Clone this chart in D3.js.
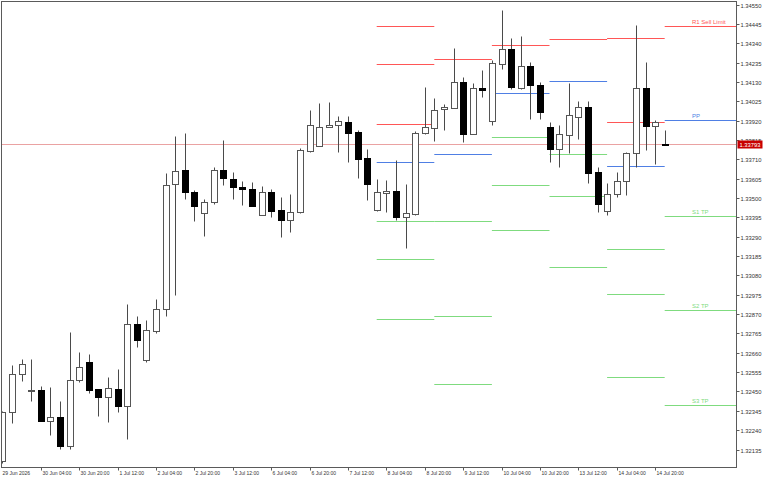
<!DOCTYPE html>
<html lang="en">
  <head>
    <meta charset="utf-8" />
    <title>GBPUSD H4 pivots</title>
    <script type="text/javascript" src="https://d3js.org/d3.v7.min.js"></script>
    <style>
      body { margin: 0; background: #fff; }
      text { font-family: "Liberation Sans", Arial, sans-serif; }
    </style>
  </head>
  <body>
    <script type="text/javascript">
      // H4 bars, 29 Jun 12:00 -> 15 Jul 00:00
      var opens = [
        1.32073, 1.32339, 1.32545, 1.32450, 1.32458, 1.32291, 1.32311, 1.32154, 1.32512, 1.32610,
        1.32463, 1.32420, 1.32463, 1.32371, 1.32816, 1.32621, 1.32778, 1.32898, 1.33576, 1.33652,
        1.33532, 1.33418, 1.33478, 1.33652, 1.33603, 1.33560, 1.33549, 1.33408, 1.33532, 1.33435,
        1.33381, 1.33424, 1.33755, 1.33782, 1.33885, 1.33896, 1.33912, 1.33858, 1.33717, 1.33435,
        1.33528, 1.33538, 1.33397, 1.33413, 1.33853, 1.33880, 1.33983, 1.33988, 1.34129, 1.33847,
        1.34097, 1.33918, 1.34227, 1.34309, 1.34097, 1.34216, 1.34113, 1.33885, 1.33766, 1.33842,
        1.33939, 1.33994, 1.33641, 1.33429, 1.33522, 1.33592, 1.33744, 1.34097, 1.33891, 1.33795
      ];
      var highs = [
        1.32345, 1.32594, 1.32626, 1.32626, 1.32480, 1.32474, 1.32398, 1.32773, 1.32664, 1.32653,
        1.32464, 1.32528, 1.32572, 1.32925, 1.32860, 1.32838, 1.32952, 1.33636, 1.33836, 1.33853,
        1.33543, 1.33494, 1.33668, 1.33815, 1.33641, 1.33592, 1.33587, 1.33565, 1.33549, 1.33505,
        1.33522, 1.33771, 1.33977, 1.34015, 1.34021, 1.33945, 1.33945, 1.33869, 1.33766, 1.33603,
        1.33598, 1.33706, 1.33576, 1.33864, 1.34102, 1.34043, 1.34010, 1.34314, 1.34157, 1.34124,
        1.34195, 1.34249, 1.34520, 1.34368, 1.34379, 1.34238, 1.34129, 1.33912, 1.33896, 1.34124,
        1.34026, 1.34026, 1.33668, 1.33581, 1.33641, 1.33750, 1.34439, 1.34238, 1.33923, 1.33869
      ];
      var lows = [
        1.32062, 1.32279, 1.32507, 1.32398, 1.32288, 1.32214, 1.32138, 1.32138, 1.32501, 1.32442,
        1.32317, 1.32284, 1.32339, 1.32192, 1.32691, 1.32610, 1.32767, 1.32860, 1.32973, 1.33494,
        1.33375, 1.33294, 1.33467, 1.33570, 1.33494, 1.33462, 1.33455, 1.33407, 1.33397, 1.33288,
        1.33315, 1.33418, 1.33750, 1.33781, 1.33884, 1.33750, 1.33695, 1.33608, 1.33489, 1.33429,
        1.33424, 1.33381, 1.33229, 1.33410, 1.33847, 1.33809, 1.33869, 1.33986, 1.33804, 1.33845,
        1.34048, 1.33896, 1.34200, 1.34091, 1.34094, 1.33929, 1.33929, 1.33695, 1.33668, 1.33744,
        1.33820, 1.33581, 1.33424, 1.33408, 1.33505, 1.33516, 1.33668, 1.33760, 1.33684, 1.33790
      ];
      var closes = [
        1.32339, 1.32545, 1.32599, 1.32458, 1.32290, 1.32310, 1.32154, 1.32512, 1.32583, 1.32458,
        1.32420, 1.32469, 1.32371, 1.32816, 1.32729, 1.32784, 1.32898, 1.33570, 1.33646, 1.33532,
        1.33456, 1.33478, 1.33652, 1.33608, 1.33560, 1.33549, 1.33456, 1.33532, 1.33429, 1.33381,
        1.33424, 1.33760, 1.33896, 1.33885, 1.33896, 1.33918, 1.33853, 1.33712, 1.33576, 1.33532,
        1.33539, 1.33397, 1.33418, 1.33853, 1.33885, 1.33977, 1.33994, 1.34129, 1.33847, 1.34097,
        1.34086, 1.34233, 1.34309, 1.34102, 1.34216, 1.34113, 1.33967, 1.33766, 1.33847, 1.33950,
        1.33994, 1.33636, 1.33467, 1.33522, 1.33592, 1.33744, 1.34097, 1.33891, 1.33912, 1.33793
      ];
      var currentPrice = 1.33793;

      var xLabels = ["29 Jun 2026", "30 Jun 04:00", "30 Jun 20:00", "1 Jul 12:00", "2 Jul 04:00",
        "2 Jul 20:00", "3 Jul 12:00", "6 Jul 04:00", "6 Jul 20:00", "7 Jul 12:00", "8 Jul 04:00",
        "8 Jul 20:00", "9 Jul 12:00", "10 Jul 04:00", "10 Jul 20:00", "13 Jul 12:00",
        "14 Jul 04:00", "14 Jul 20:00"];
      var xLabelBars = [0, 4, 8, 12, 16, 20, 24, 28, 32, 36, 40, 44, 48, 52, 56, 60, 64, 68];

      var yTicks = [1.32135, 1.32240, 1.32345, 1.32450, 1.32555, 1.32660, 1.32765, 1.32870,
        1.32975, 1.33080, 1.33185, 1.33290, 1.33395, 1.33500, 1.33605, 1.33710, 1.33815,
        1.33920, 1.34025, 1.34130, 1.34235, 1.34340, 1.34445, 1.34550];

      // daily pivot levels (8,9,10,13,14,15 Jul), null = off the chart
      var dayStartBars = [39, 45, 51, 57, 63, 69];
      var pivotR3 = [1.34433, null, null, null, null, null];
      var pivotR2 = [1.34225, null, null, null, 1.34367, null];
      var pivotR1 = [1.33900, 1.34254, 1.34330, 1.34361, 1.33914, 1.34433];
      var pivotPP = [1.33694, 1.33740, 1.34068, 1.34133, 1.33672, 1.33923];
      var pivotS1 = [1.33375, 1.33375, 1.33831, 1.33740, 1.33221, 1.33401];
      var pivotS2 = [1.33167, 1.32858, 1.33569, 1.33509, 1.32977, 1.32894];
      var pivotS3 = [1.32842, 1.32489, 1.33326, 1.33124, 1.32528, 1.32377];

      var width = 768, height = 480;
      // plot box (note: "top" is reserved on window, so use p* names)
      var pL = 1.5, pR = 736.5, pT = 1.5, pB = 467.5;

      var red = "#ff5656", blue = "#4f7fe4", green = "#7fdb7f";

      var x = d3.scaleLinear().domain([0, 69]).range([2.3, 664.7]);
      var y = d3.scaleLinear().domain([1.32135, 1.34550]).range([449.5, 4.5]);

      function px(v) { return Math.round(v) + 0.5; }

      var svg = d3.select("body").append("svg")
        .attr("width", width).attr("height", height);

      svg.append("rect").attr("width", width).attr("height", height).attr("fill", "#fff");

      svg.append("defs").append("clipPath").attr("id", "plot")
        .append("rect").attr("x", pL).attr("y", pT)
        .attr("width", pR - pL).attr("height", pB - pT);

      var plot = svg.append("g").attr("clip-path", "url(#plot)");

      // current price line
      plot.append("line")
        .attr("x1", pL).attr("x2", pR)
        .attr("y1", px(y(currentPrice))).attr("y2", px(y(currentPrice)))
        .attr("stroke", "#eaa2a2").attr("stroke-width", 1);

      // pivot segments
      var levels = [
        { vals: pivotR3, color: red, label: null },
        { vals: pivotR2, color: red, label: null },
        { vals: pivotR1, color: red, label: "R1 Sell Limit" },
        { vals: pivotPP, color: blue, label: "PP" },
        { vals: pivotS1, color: green, label: "S1 TP" },
        { vals: pivotS2, color: green, label: "S2 TP" },
        { vals: pivotS3, color: green, label: "S3 TP" }
      ];
      levels.forEach(function (lv) {
        lv.vals.forEach(function (v, i) {
          if (v == null) return;
          var x1 = x(dayStartBars[i]);
          var x2 = i < dayStartBars.length - 1 ? x(dayStartBars[i + 1]) : pR;
          plot.append("line")
            .attr("x1", x1).attr("x2", x2)
            .attr("y1", px(y(v))).attr("y2", px(y(v)))
            .attr("stroke", lv.color).attr("stroke-width", 1);
          if (i == dayStartBars.length - 1 && lv.label) {
            plot.append("text")
              .attr("x", 692).attr("y", px(y(v)) - 2.5)
              .attr("font-size", "6px")
              .attr("fill", lv.color)
              .text(lv.label);
          }
        });
      });

      // candles
      var bars = d3.range(opens.length);
      var candle = plot.selectAll(".candle").data(bars).enter()
        .append("g").attr("class", "candle");

      candle.append("line")
        .attr("x1", function (i) { return px(x(i)); })
        .attr("x2", function (i) { return px(x(i)); })
        .attr("y1", function (i) { return px(y(highs[i])); })
        .attr("y2", function (i) { return px(y(lows[i])); })
        .attr("stroke", "#4a4a4a");

      candle.append("rect")
        .attr("x", function (i) { return Math.round(x(i)) - 2.5; })
        .attr("width", 6)
        .attr("y", function (i) { return px(y(Math.max(opens[i], closes[i]))); })
        .attr("height", function (i) {
          var h = Math.round(y(Math.min(opens[i], closes[i]))) - Math.round(y(Math.max(opens[i], closes[i])));
          return Math.max(h, 1);
        })
        .attr("fill", function (i) { return closes[i] < opens[i] ? "#000" : "#fff"; })
        .attr("stroke", function (i) { return closes[i] < opens[i] ? "#000" : "#555"; })
        .attr("stroke-width", 1);

      // frame
      svg.append("rect")
        .attr("x", pL).attr("y", pT)
        .attr("width", pR - pL).attr("height", pB - pT)
        .attr("fill", "none").attr("stroke", "#5a5a5a");

      // price axis
      var yAxis = svg.append("g");
      yTicks.forEach(function (t) {
        var yy = px(y(t));
        yAxis.append("line").attr("x1", pR).attr("x2", pR + 3)
          .attr("y1", yy).attr("y2", yy).attr("stroke", "#5a5a5a");
        yAxis.append("text").attr("x", pR + 4).attr("y", yy).attr("dy", "0.35em")
          .attr("font-size", "5.8px").attr("fill", "#333").text(t.toFixed(5));
      });

      // current price tag
      var cy = px(y(currentPrice));
      svg.append("rect").attr("x", pR + 1).attr("y", cy - 4)
        .attr("width", 25).attr("height", 8).attr("fill", "#c80000");
      svg.append("text").attr("x", pR + 3).attr("y", cy).attr("dy", "0.35em")
        .attr("font-size", "5.8px").attr("fill", "#fff").text(currentPrice.toFixed(5));

      // time axis
      var xAxis = svg.append("g");
      xLabelBars.forEach(function (b, i) {
        var xx = i == 0 ? pL : px(x(b));
        if (i > 0) {
          xAxis.append("line").attr("x1", xx).attr("x2", xx)
            .attr("y1", pB).attr("y2", pB + 3).attr("stroke", "#5a5a5a");
        }
        xAxis.append("text").attr("x", xx + 1).attr("y", pB + 7)
          .attr("font-size", "5px").attr("fill", "#333").text(xLabels[i]);
      });
    </script>
  </body>
</html>
